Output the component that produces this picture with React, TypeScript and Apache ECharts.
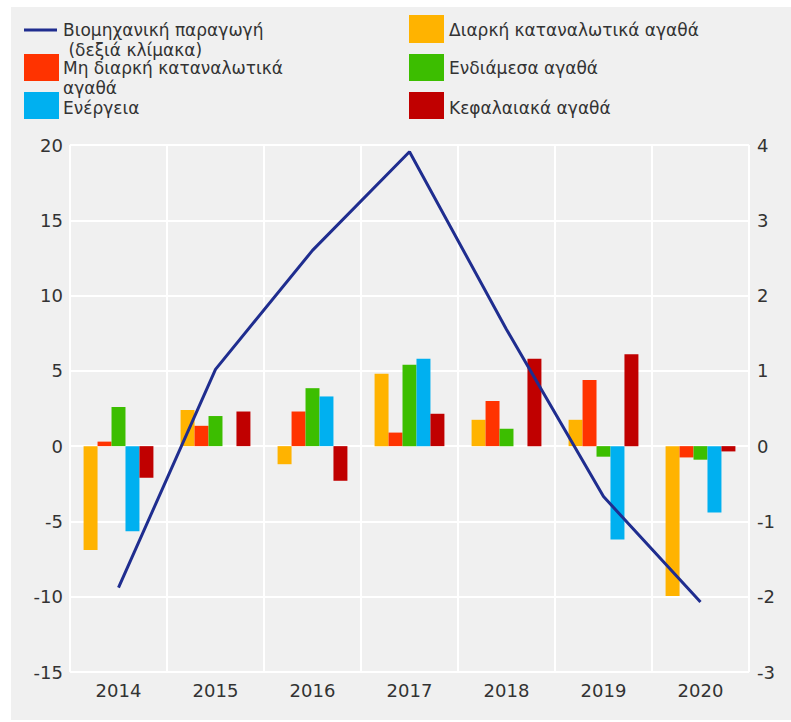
import React, { useEffect, useRef } from 'react';
import * as echarts from 'echarts';

const years = ['2014', '2015', '2016', '2017', '2018', '2019', '2020'];

const lineName = 'Βιομηχανική παραγωγή (δεξιά κλίμακα)';
const lineLegendLines = ['Βιομηχανική παραγωγή', ' (δεξιά κλίμακα)'];
const industrialProduction = [-1.88, 1.02, 2.6, 3.91, 1.55, -0.67, -2.07];

const durableName = 'Διαρκή καταναλωτικά αγαθά';
const durable = [-6.9, 2.4, -1.2, 4.8, 1.75, 1.75, -9.95];

const nonDurableName = 'Μη διαρκή καταναλωτικά αγαθά';
const nonDurableLegendLines = ['Μη διαρκή καταναλωτικά', 'αγαθά'];
const nonDurable = [0.3, 1.35, 2.3, 0.9, 3.0, 4.4, -0.75];

const intermediateName = 'Ενδιάμεσα αγαθά';
const intermediate = [2.6, 2.0, 3.85, 5.4, 1.15, -0.7, -0.9];

const energyName = 'Ενέργεια';
const energy = [-5.65, 0, 3.3, 5.8, 0, -6.2, -4.4];

const capitalName = 'Κεφαλαιακά αγαθά';
const capital = [-2.1, 2.3, -2.3, 2.15, 5.8, 6.1, -0.35];

const leftAxis = { min: -15, max: 20, interval: 5 };
const rightAxis = { min: -3, max: 4, interval: 1 };

const barSeries = [
  { name: durableName, data: durable, color: '#FFB300' },
  { name: nonDurableName, data: nonDurable, color: '#FF3300' },
  { name: intermediateName, data: intermediate, color: '#3CBE00' },
  { name: energyName, data: energy, color: '#00B0F0' },
  { name: capitalName, data: capital, color: '#C00000' },
];
const lineColor = '#1F2D8F';

const FONT = 'DejaVu Sans';
const TEXT = '#333333';

export default function App() {
  const ref = useRef<HTMLDivElement>(null);

  useEffect(() => {
    const chart = echarts.init(ref.current!, null, { renderer: 'svg' });

    const label = (text: string, x: number, y: number) => ({
      type: 'text',
      x,
      y,
      silent: true,
      style: {
        text,
        fill: TEXT,
        fontSize: 17,
        fontFamily: FONT,
        align: 'left',
        verticalAlign: 'middle',
      },
    });
    const rect = (x: number, y: number, h: number, color: string) => ({
      type: 'rect',
      silent: true,
      shape: { x, y, width: 35, height: h },
      style: { fill: color },
    });

    const colorOf = (n: string) => barSeries.find((s) => s.name === n)!.color;

    const legendGraphic = [
      {
        type: 'line',
        silent: true,
        shape: { x1: 24, y1: 30, x2: 57, y2: 30 },
        style: { stroke: lineColor, lineWidth: 3 },
      },
      label(lineLegendLines[0], 63, 30),
      label(lineLegendLines[1], 63, 50),
      rect(24, 54, 27, colorOf(nonDurableName)),
      label(nonDurableLegendLines[0], 63, 68),
      label(nonDurableLegendLines[1], 63, 88),
      rect(24, 92, 27, colorOf(energyName)),
      label(energyName, 63, 108),
      rect(409, 15, 28, colorOf(durableName)),
      label(durableName, 449, 30),
      rect(409, 54, 27, colorOf(intermediateName)),
      label(intermediateName, 449, 68),
      rect(409, 92, 27, colorOf(capitalName)),
      label(capitalName, 449, 108),
    ];

    chart.setOption({
      animation: false,
      textStyle: { fontFamily: FONT },
      grid: { left: 70, right: 42, top: 145, bottom: 50, containLabel: false },
      graphic: legendGraphic,
      xAxis: {
        type: 'category',
        data: years,
        boundaryGap: true,
        axisLine: { show: false },
        axisTick: { show: false },
        splitLine: { show: true, lineStyle: { color: '#ffffff', width: 2 } },
        axisLabel: { color: TEXT, fontSize: 18, fontFamily: FONT, margin: 9 },
      },
      yAxis: [
        {
          type: 'value',
          min: leftAxis.min,
          max: leftAxis.max,
          interval: leftAxis.interval,
          axisLine: { show: false },
          axisTick: { show: false },
          splitLine: { show: true, lineStyle: { color: '#ffffff', width: 2 } },
          axisLabel: { color: TEXT, fontSize: 18, fontFamily: FONT, margin: 7 },
        },
        {
          type: 'value',
          position: 'right',
          min: rightAxis.min,
          max: rightAxis.max,
          interval: rightAxis.interval,
          axisLine: { show: false },
          axisTick: { show: false },
          splitLine: { show: false },
          axisLabel: { color: TEXT, fontSize: 18, fontFamily: FONT, margin: 8 },
        },
      ],
      series: [
        ...barSeries.map((s) => ({
          type: 'bar',
          name: s.name,
          data: s.data,
          yAxisIndex: 0,
          barGap: '0%',
          barCategoryGap: '28%',
          itemStyle: { color: s.color },
          z: 2,
        })),
        {
          type: 'line',
          name: lineName,
          data: industrialProduction,
          yAxisIndex: 1,
          symbol: 'none',
          lineStyle: { color: lineColor, width: 3 },
          itemStyle: { color: lineColor },
          z: 5,
        },
      ],
    });

    return () => chart.dispose();
  }, []);

  return (
    <div
      style={{
        position: 'fixed',
        left: 0,
        top: 0,
        width: 791,
        height: 722,
        background: '#ffffff',
      }}
    >
      <div
        style={{
          position: 'absolute',
          left: 11,
          top: 7,
          width: 780,
          height: 713,
          background: '#f0f0f0',
        }}
      />
      <div
        ref={ref}
        style={{ position: 'absolute', left: 0, top: 0, width: 791, height: 722 }}
      />
    </div>
  );
}
